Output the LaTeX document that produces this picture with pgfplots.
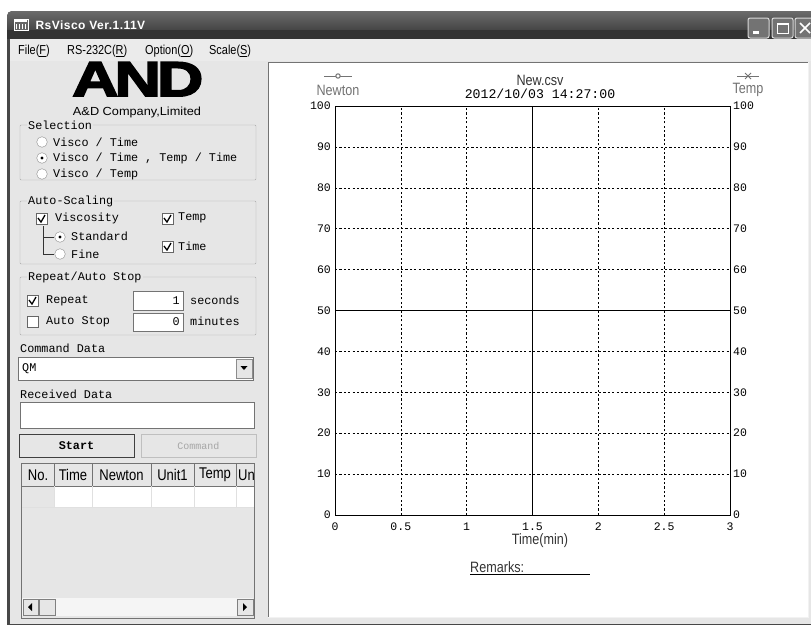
\documentclass[border=0pt]{standalone}
\usepackage{fontspec}
\usepackage{graphicx}
\usepackage{pgfplots}
\pgfplotsset{compat=1.18}
\setmainfont{Liberation Sans}
\newfontfamily\mono{Liberation Mono}
\newfontfamily\narrow{Liberation Sans}[FakeStretch=0.84]
\newfontfamily\logofont{Liberation Sans Bold}[FakeBold=3, LetterSpace=-6]
\definecolor{winbg}{HTML}{E6E6E6}
\definecolor{menubg}{HTML}{EBEBEB}
\definecolor{boxline}{HTML}{A8A8A8}
\newcommand{\fs}[1]{\fontsize{#1}{#1}\selectfont}
\begin{document}
\begin{tikzpicture}
\useasboundingbox (0,0) rectangle (811pt,-624pt);
\clip (0,0) rectangle (811pt,-624pt);
\begin{scope}[x=1pt,y=-1pt]
\fill[white] (0,0) rectangle (811,624);
% window frame
\fill[black!72, rounded corners=5pt] (7,11) rectangle (830,640);
\shade[top color=black!58, bottom color=black!80, rounded corners=5pt] (7,11) rectangle (830,39);
\fill[black!80] (7,30) rectangle (830,39);
\fill[menubg] (10,39) rectangle (811,61);
\fill[winbg] (10,61) rectangle (811,624);
% title
\draw[white, fill=black!60] (14,19) rectangle (28,30);
\fill[white] (15,20) rectangle (27,22);
\foreach \xx in {16,19,22,25} {\fill[white] (\xx,24) rectangle (\xx+1,29);}
\node[anchor=west, white, font=\bfseries\fs{12}\addfontfeature{LetterSpace=4}] at (32,25) {RsVisco Ver.1.11V};
% title buttons
\foreach \bx in {748,772,795} {
  \draw[white!85!black, line width=1pt, fill=black!55, rounded corners=2pt] (\bx,18) rectangle (\bx+21,38);
}
\fill[white] (753,31) rectangle (759,33.5);
\draw[white, line width=1pt] (777,23) rectangle (788,33); \draw[white,line width=2pt] (777,23.5) -- (788,23.5);
\draw[white, line width=1.6pt] (800,23) -- (810,33) (800,33) -- (810,23);
% menu
\begin{scope}[every node/.style={anchor=west, inner sep=0pt, font=\narrow\fs{13}}]
\node at (18,51) {File(\underline{F})};
\node at (67,51) {RS-232C(\underline{R})};
\node at (145,51) {Option(\underline{O})};
\node at (209,51) {Scale(\underline{S})};
\end{scope}
% white chart panel
\fill[white] (268,62) rectangle (808,617);
\draw[black!55, line width=1.5pt] (268.5,617) -- (268.5,62.5) -- (808,62.5);
\draw[white!95!black, line width=1pt] (808,62) -- (808,617) -- (268,617);
% logo
\node[inner sep=0pt, anchor=north west] at (72,62) {\resizebox{131pt}{34pt}{\logofont AND}};
\node[inner sep=0pt] at (137,112) {\resizebox{128pt}{8.5pt}{\narrow\fs{12}A\&D Company,Limited}};
% group boxes
\tikzset{grp/.style={draw=boxline, rounded corners=1pt}, glab/.style={anchor=west, fill=winbg, inner sep=1pt, font=\mono\fs{11.8}},
  mt/.style={anchor=west, inner sep=0pt, font=\mono\fs{11.8}},
  chk/.style={draw=black!60, fill=white},
  rad/.style={fill=white, draw=black!45}}
\draw[grp] (20,125) rectangle (256,180);
\node[glab] at (27,125) {Selection};
\foreach \yy in {142,158,174} {\draw[rad] (42,\yy) circle (5.3);}
\fill (42,158) circle (1.7);
\node[mt] at (53,142) {Visco / Time};
\node[mt] at (53,158) {Visco / Time , Temp / Time};
\node[mt] at (53,174) {Visco / Temp};
\draw[grp] (20,201) rectangle (256,264);
\node[glab] at (27,201) {Auto-Scaling};
\draw[chk] (36,213) rectangle (47,224);
\draw[line width=1.3pt] (38,218) -- (41,222) -- (45,215);
\node[mt] at (55,218) {Viscosity};
\draw[chk] (162,213) rectangle (173,224);
\draw[line width=1.3pt] (164,218) -- (167,222) -- (171,215);
\node[mt] at (178,218) {Temp};
\draw[chk] (162,241) rectangle (173,252);
\draw[line width=1.3pt] (164,246) -- (167,250) -- (171,243);
\node[mt] at (178,246) {Time};
\draw[black!80] (43,226) -- (43,254) -- (54,254) (43,237) -- (54,237);
\draw[rad] (60,237) circle (5.3);
\fill (60,237) circle (1.7);
\draw[rad] (60,254) circle (5.3);
\node[mt] at (71,236) {Standard};
\node[mt] at (71,254) {Fine};
\draw[grp] (20,277) rectangle (256,335);
\node[glab] at (27,277) {Repeat/Auto Stop};
\draw[chk] (27,295) rectangle (38,306);
\draw[line width=1.3pt] (29,300) -- (32,304) -- (36,297);
\node[mt] at (46,301) {Repeat};
\draw[chk] (27,316) rectangle (38,327);
\node[mt] at (46,322) {Auto Stop};
\draw[fill=white, draw=black!55] (133,291) rectangle (183,310);
\node[mt, anchor=east] at (180,301) {1};
\draw[fill=white, draw=black!55] (133,313) rectangle (183,331);
\node[mt, anchor=east] at (180,322) {0};
\node[mt] at (190,300) {seconds};
\node[mt] at (190,321) {minutes};
\node[mt] at (20,348) {Command Data};
\draw[fill=white, draw=black!55] (18,357) rectangle (253,380);
\node[mt] at (22,369) {QM};
\draw[fill=winbg, draw=black!45] (236,359) rectangle (252,378);
\fill (240.5,366) -- (247.5,366) -- (244,370) -- cycle;
\node[mt] at (20,394) {Received Data};
\draw[fill=white, draw=black!55] (20,402) rectangle (254,428);
% buttons
\draw[fill=winbg, draw=black!75, line width=1pt] (19,434) rectangle (134,457);
\node[font=\mono\bfseries\fs{11.8}] at (76.5,445.5) {Start};
\draw[fill=winbg, draw=black!25, line width=1pt] (141,434) rectangle (256,457);
\node[font=\mono\fs{10}, text=black!35] at (198.5,445.5) {Command};
% table
\draw[fill=winbg, draw=black!55, line width=1pt] (21,463) rectangle (254,618);
\fill[white] (54,486) rectangle (254,507);
\draw[black!55] (22,486) -- (254,486);
\draw[black!12] (22,507) -- (254,507);
\foreach \cx in {54,92,151,194,236} {\draw[black!55] (\cx,464) -- (\cx,486); \draw[black!12] (\cx,486) -- (\cx,507);}
\begin{scope}[every node/.style={inner sep=0pt, font=\narrow\fs{15.5}}]
\node at (38,475) {No.};
\node at (73,475) {Time};
\node at (121.5,475) {Newton};
\node at (172.5,475) {Unit1};
\node at (215,475) {Temp};
\begin{scope}
\clip (236,464) rectangle (253,486);
\node[anchor=west] at (238,475) {Unit2};
\end{scope}
\end{scope}
% scrollbar
\fill[black!4] (22,598) rectangle (253,616);
\draw[fill=winbg, draw=black!50] (23,599) rectangle (38,615);
\fill (28,607) -- (32,603) -- (32,611) -- cycle;
\draw[fill=winbg, draw=black!50] (39,599) rectangle (55,615);
\draw[fill=winbg, draw=black!50] (237,599) rectangle (253,615);
\fill (247,607) -- (243,603) -- (243,611) -- cycle;
% chart texts
\node[font=\narrow\fs{15}, text=black!55] at (338,90) {Newton};
\draw[black!55, line width=1pt] (324,76) -- (352,76);
\draw[black!55, fill=white, line width=1pt] (338,76) circle (2.2);
\node[font=\narrow\fs{15}, text=black!55] at (748,90) {Temp};
\draw[black!55, line width=1pt] (737,76) -- (759,76);
\draw[black!55, line width=1pt] (745,73) -- (751,79) (745,79) -- (751,73);
\node[font=\narrow\fs{15}, text=black!80] at (540,80) {New.csv};
\node[font=\mono\fs{13.2}] at (540,94) {2012/10/03 14:27:00};
\node[font=\narrow\fs{15}, text=black!80] at (540,541) {Time(min)};
\node[font=\narrow\fs{15}, text=black!80, anchor=west, inner sep=0pt] at (470,567) {Remarks:};
\draw[black, line width=1pt] (470,574) -- (590,574);
\end{scope}
% axes
\begin{axis}[at={(335pt,-515pt)}, anchor=south west, scale only axis,
  width=395pt, height=409pt,
  xmin=0, xmax=3, ymin=0, ymax=100,
  xtick={0,0.5,1,1.5,2,2.5,3}, ytick={0,10,...,100},
  xticklabels={0,0.5,1,1.5,2,2.5,3},
  major tick length=0pt,
  grid=major,
  major grid style={black, line width=0.6pt, dash pattern=on 2.2pt off 2.2pt},
  axis line style={black, line width=1pt},
  /pgf/number format/assume math mode=true,
  xticklabel style={font=\mono\fs{11.5}, inner sep=0pt, yshift=-8pt},
  yticklabel style={font=\mono\fs{11.5}, inner sep=0pt, xshift=-4pt},
  extra x ticks={1.5}, extra x tick labels={},
  extra y ticks={50}, extra y tick labels={},
  extra tick style={grid=major, major grid style={black, line width=0.6pt, solid}},
  axis on top,
]
\end{axis}
\begin{axis}[at={(335pt,-515pt)}, anchor=south west, scale only axis,
  width=395pt, height=409pt,
  xmin=0, xmax=3, ymin=0, ymax=100,
  xtick=\empty, ytick={0,10,...,100},
  yticklabel pos=right,
  major tick length=0pt,
  axis line style={draw=none},
  /pgf/number format/assume math mode=true,
  yticklabel style={font=\mono\fs{11.5}, inner sep=0pt, xshift=3pt},
]
\end{axis}
\end{tikzpicture}
\end{document}
